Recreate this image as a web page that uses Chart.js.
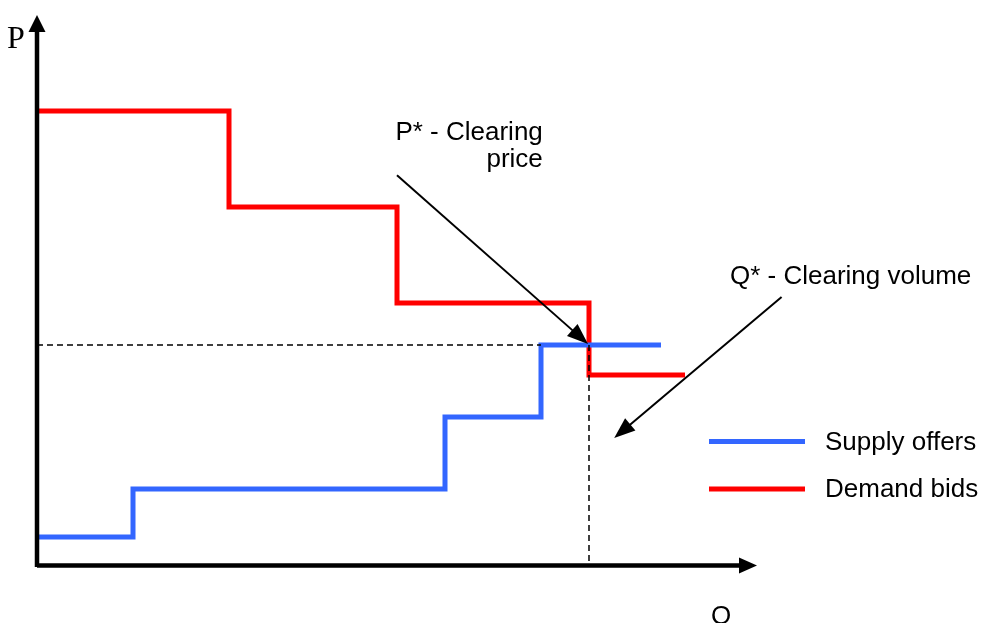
<!DOCTYPE html>
<html>
<head>
<meta charset="utf-8">
<script src="https://cdn.jsdelivr.net/npm/chart.js@4"></script>
<style>
  body { margin: 0; background: #fff; }
  #chart { display: block; }
</style>
</head>
<body>
<canvas id="chart" width="983" height="623"></canvas>
<script>
// demand bids (red) - quantity where each step ends, and price level after it
const demandQ = [0, 32, 60, 92, 108];
const demandP = [76, 60, 44, 32, 32];
// supply offers (blue)
const supplyQ = [0, 16, 68, 84, 104];
const supplyP = [5, 13, 25, 37, 37];

const clearingQ = 92;
const clearingP = 37;

const seriesLabels = ["Supply offers", "Demand bids"];
const axisLabels = ["P", "Q"];
const notes = ["P* - Clearing", "price", "Q* - Clearing volume"];

function toPoints(xs, ys) {
  return xs.map((x, i) => ({ x: x, y: ys[i] }));
}

function arrow(ctx, x1, y1, x2, y2, head, w, lw) {
  const a = Math.atan2(y2 - y1, x2 - x1);
  ctx.save();
  ctx.strokeStyle = "#000";
  ctx.fillStyle = "#000";
  ctx.lineWidth = lw;
  ctx.beginPath();
  ctx.moveTo(x1, y1);
  ctx.lineTo(x2 - Math.cos(a) * head * 0.8, y2 - Math.sin(a) * head * 0.8);
  ctx.stroke();
  ctx.beginPath();
  ctx.moveTo(x2, y2);
  ctx.lineTo(x2 - Math.cos(a) * head + Math.sin(a) * w / 2, y2 - Math.sin(a) * head - Math.cos(a) * w / 2);
  ctx.lineTo(x2 - Math.cos(a) * head - Math.sin(a) * w / 2, y2 - Math.sin(a) * head + Math.cos(a) * w / 2);
  ctx.closePath();
  ctx.fill();
  ctx.restore();
}

const extras = {
  id: "extras",
  afterDatasetsDraw(chart) {
    const ctx = chart.ctx;
    const xs = chart.scales.x, ys = chart.scales.y;
    const area = chart.chartArea;
    const px = v => xs.getPixelForValue(v);
    const py = v => ys.getPixelForValue(v);

    // dashed guides
    ctx.save();
    ctx.strokeStyle = "#000";
    ctx.lineWidth = 1.5;
    ctx.setLineDash([6, 4]);
    ctx.beginPath();
    ctx.moveTo(px(0), py(clearingP));
    ctx.lineTo(px(supplyQ[3]), py(clearingP));
    ctx.moveTo(px(clearingQ), py(clearingP));
    ctx.lineTo(px(clearingQ), py(0));
    ctx.stroke();
    ctx.restore();

    // axes
    ctx.save();
    ctx.strokeStyle = "#000";
    ctx.lineWidth = 4.5;
    ctx.beginPath();
    ctx.moveTo(area.left, area.bottom - 1.5);
    ctx.lineTo(area.right - 10, area.bottom - 1.5);
    ctx.moveTo(area.left, area.bottom);
    ctx.lineTo(area.left, area.top + 10);
    ctx.stroke();
    ctx.fillStyle = "#000";
    ctx.beginPath();
    ctx.moveTo(area.left, area.top);
    ctx.lineTo(area.left - 8.5, area.top + 17);
    ctx.lineTo(area.left + 8.5, area.top + 17);
    ctx.closePath();
    ctx.fill();
    ctx.beginPath();
    ctx.moveTo(area.right, area.bottom - 1.5);
    ctx.lineTo(area.right - 18, area.bottom - 9.5);
    ctx.lineTo(area.right - 18, area.bottom + 6.5);
    ctx.closePath();
    ctx.fill();
    ctx.restore();

    // annotation arrows
    arrow(ctx, px(60), py(65.3), px(clearingQ) - 1, py(clearingP) - 1, 21, 16, 2);
    arrow(ctx, px(124.1), py(45), px(96.2), py(21.5), 21, 16, 2);

    // texts
    ctx.save();
    ctx.fillStyle = "#000";
    ctx.textBaseline = "alphabetic";
    ctx.font = '32px "Liberation Serif"';
    ctx.textAlign = "left";
    ctx.fillText(axisLabels[0], 7, 48);
    ctx.font = '26px "Liberation Sans"';
    ctx.textAlign = "center";
    ctx.fillText(axisLabels[1], 721, 624);
    ctx.textAlign = "right";
    ctx.fillText(notes[0], px(84.3), py(71.2));
    ctx.fillText(notes[1], px(84.3), py(66.6));
    ctx.textAlign = "left";
    ctx.fillText(notes[2], px(115.5), py(47.2));

    // legend
    const colors = [chart.data.datasets[0].borderColor, chart.data.datasets[1].borderColor];
    const rows = [441.5, 489];
    ctx.textBaseline = "middle";
    rows.forEach((y, i) => {
      ctx.strokeStyle = colors[i];
      ctx.lineWidth = 5;
      ctx.beginPath();
      ctx.moveTo(709, y);
      ctx.lineTo(805, y);
      ctx.stroke();
      ctx.fillStyle = "#000";
      ctx.fillText(seriesLabels[i], 825, y + 1);
    });
    ctx.restore();
  }
};

new Chart(document.getElementById("chart"), {
  type: "line",
  data: {
    datasets: [
      {
        label: seriesLabels[0],
        data: toPoints(supplyQ, supplyP),
        borderColor: "#3366ff",
        borderWidth: 5,
        stepped: "before",
        pointRadius: 0,
        fill: false,
        order: 1
      },
      {
        label: seriesLabels[1],
        data: toPoints(demandQ, demandP),
        borderColor: "#ff0000",
        borderWidth: 5,
        stepped: "before",
        pointRadius: 0,
        fill: false,
        order: 2
      }
    ]
  },
  options: {
    responsive: false,
    animation: false,
    devicePixelRatio: 1,
    layout: { padding: { left: 37, right: 226, top: 15, bottom: 56 } },
    clip: false,
    scales: {
      x: { type: "linear", min: 0, max: 120, display: false },
      y: { type: "linear", min: 0, max: 92, display: false }
    },
    plugins: {
      legend: { display: false },
      tooltip: { enabled: false }
    }
  },
  plugins: [extras]
});
</script>
</body>
</html>
